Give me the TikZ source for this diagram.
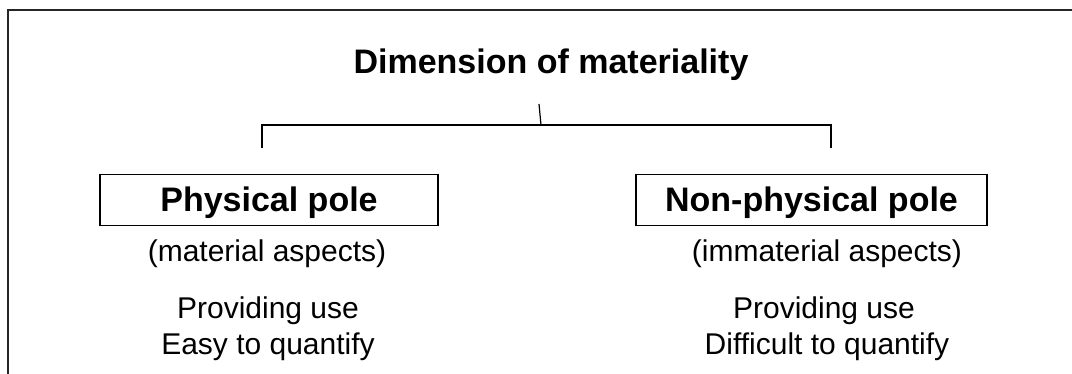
\documentclass[tikz,border=0pt]{standalone}
\usepackage{fontspec}
\setmainfont{Liberation Sans}
\begin{document}
\begin{tikzpicture}[x=1pt,y=-1pt,
  framel/.style={draw=black!85, line width=2pt},
  brk/.style={draw=black, line width=1.2pt},
  polebox/.style={draw=black, line width=1.4pt, rectangle, inner sep=0pt,
    font=\bfseries\fontsize{34}{40}\selectfont, text height=24pt, text depth=0pt},
  titlel/.style={font=\bfseries\fontsize{34}{40}\selectfont, inner sep=0pt, anchor=base},
  lbl/.style={font=\fontsize{30}{36}\selectfont, inner sep=0pt, anchor=base}]
\useasboundingbox (0,0) rectangle (1072,374);
% frame
\draw[framel] (8,374) -- (8,10.5) -- (1072,10.5);
% title
\node[titlel] (title) at (551,74) {Dimension of materiality};
% bracket
\coordinate (stemtop) at (539,104);
\coordinate (stembot) at (541,125);
\coordinate (lefttop) at (262,125);
\coordinate (leftbot) at (262,148);
\coordinate (righttop) at (831,125);
\coordinate (rightbot) at (831,148);
\draw[brk] (stemtop) -- (stembot);
\draw[brk] (leftbot) -- (lefttop) -- (righttop) -- (rightbot);
% boxes
\node[polebox, minimum width=338pt, minimum height=51pt] (phys) at (269,200) {Physical pole};
\node[polebox, minimum width=351pt, minimum height=51pt] (nonphys) at (811.5,200) {Non-physical pole};
% texts
\node[lbl] (matl) at (267,262) {(material aspects)};
\node[lbl] (use1) at (268,319) {Providing use};
\node[lbl] (easy) at (268,355) {Easy to quantify};
\node[lbl] (imml) at (827,262) {(immaterial aspects)};
\node[lbl] (use2) at (824,319) {Providing use};
\node[lbl] (diff) at (827,355) {Difficult to quantify};
\end{tikzpicture}
\end{document}
